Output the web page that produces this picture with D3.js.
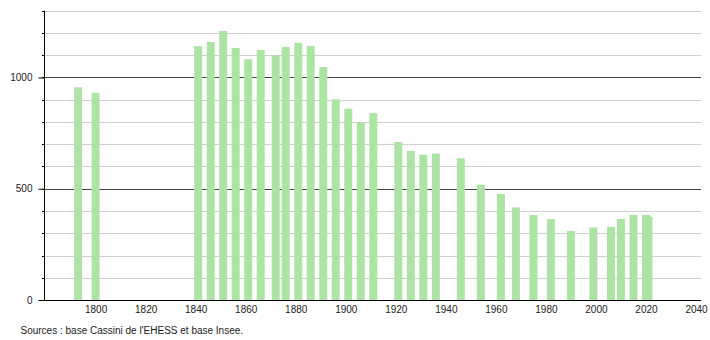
<!DOCTYPE html>
<html>
<head>
<meta charset="utf-8">
<script src="https://cdn.jsdelivr.net/npm/d3@7"></script>
<style>
  html, body { margin: 0; padding: 0; background: #fff; }
  svg { display: block; font-family: "Liberation Sans", Arial, Helvetica, sans-serif; }
</style>
</head>
<body>
<svg id="chart" width="710" height="340"></svg>
<script>
const years = [1793, 1800, 1841, 1846, 1851, 1856, 1861, 1866, 1872, 1876, 1881, 1886, 1891, 1896, 1901, 1906, 1911,
  1921, 1926, 1931, 1936, 1946, 1954, 1962, 1968, 1975, 1982, 1990, 1999, 2006, 2010, 2015, 2020, 2021];
const population = [956, 931, 1141, 1160, 1209, 1133, 1082, 1124, 1099, 1137, 1156, 1142, 1047, 902, 860, 799, 840,
  710, 670, 653, 658, 637, 518, 477, 416, 382, 364, 310, 326, 329, 364, 383, 383, 375];
const xTickLabels = [1800, 1820, 1840, 1860, 1880, 1900, 1920, 1940, 1960, 1980, 2000, 2020, 2040];
const yLabelTicks = [0, 500, 1000];
const yGridTicks = d3.range(100, 1301, 100);
const yMinorTicks = d3.range(0, 1301, 100);
const sourceText = "Sources : base Cassini de l'EHESS et base Insee.";

const svg = d3.select("#chart");
const x = d3.scaleLinear().domain([1800, 2040]).range([95.6, 696]);
const y = d3.scaleLinear().domain([0, 1300]).range([300, 10.75]);
const left = 44, right = 701;

// gridlines
svg.append("g").selectAll("line").data(yGridTicks).join("line")
  .attr("x1", left).attr("x2", right)
  .attr("y1", d => Math.round(y(d)) + 0.5).attr("y2", d => Math.round(y(d)) + 0.5)
  .attr("stroke", d => d % 500 === 0 ? "#444" : "#cfcfcf")
  .attr("stroke-width", 1);

// bars
const bw = 8;
svg.append("g").selectAll("rect").data(years).join("rect")
  .attr("x", (d) => x(d) - bw / 2)
  .attr("y", (d, i) => y(population[i]))
  .attr("width", bw)
  .attr("height", (d, i) => y(0) - y(population[i]))
  .attr("fill", "#aee3a6");

// y axis
const yAxis = d3.axisLeft(y).tickValues(yLabelTicks).tickSize(6).tickPadding(6).tickFormat(d3.format("d"));
const gy = svg.append("g").attr("transform", `translate(${left + 0.5},0)`).call(yAxis);
gy.select(".domain").attr("stroke", "#000").attr("d", `M0,${y(1300)}V${y(0)}`);
gy.selectAll(".tick line").attr("stroke", "#000");
gy.selectAll(".tick text").attr("fill", "#222").style("font-size", "10px").style("font-family", "Liberation Sans, Arial, sans-serif");
// minor ticks
gy.append("g").selectAll("line").data(yMinorTicks).join("line")
  .attr("x1", -2.5).attr("x2", 0)
  .attr("y1", d => Math.round(y(d)) + 0.5).attr("y2", d => Math.round(y(d)) + 0.5)
  .attr("stroke", "#000");

// x axis
const xAxis = d3.axisBottom(x).tickValues(xTickLabels).tickSize(0).tickPadding(5).tickFormat(d3.format("d"));
const gx = svg.append("g").attr("transform", `translate(0,${y(0) + 0.5})`).call(xAxis);
gx.select(".domain").attr("stroke", "#000").attr("d", `M${left - 4},0H${right}`);
gx.selectAll(".tick text").attr("fill", "#222").style("font-size", "10px").style("font-family", "Liberation Sans, Arial, sans-serif");

// source
svg.append("text").attr("x", 20.5).attr("y", 333.5)
  .attr("fill", "#222").style("font-size", "10px")
  .text(sourceText);
</script>
</body>
</html>
